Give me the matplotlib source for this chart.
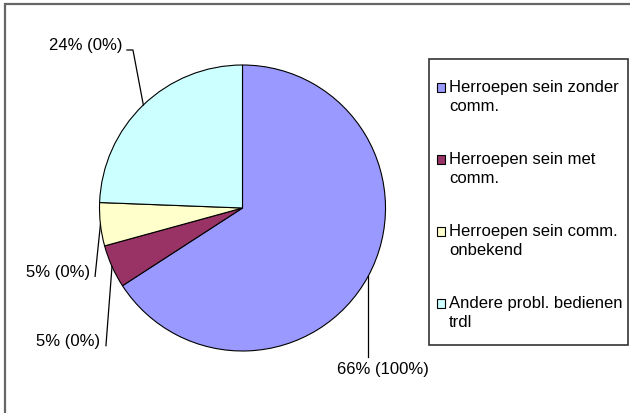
import matplotlib.pyplot as plt
import numpy as np
from matplotlib.patches import Rectangle

plt.rcParams["font.family"] = ["Liberation Sans", "DejaVu Sans"]

# counts per category (41 in total)
categories = [
    "Herroepen sein zonder\ncomm.",
    "Herroepen sein met\ncomm.",
    "Herroepen sein comm.\nonbekend",
    "Andere probl. bedienen\ntrdl",
]
values = [27, 2, 2, 10]
labels = ["66% (100%)", "5% (0%)", "5% (0%)", "24% (0%)"]
colors = ["#9999FF", "#993366", "#FFFFCC", "#CCFFFF"]

# layout (pie radius = 1, 143 px)
W, H = 630, 414
cx, cy, R = 242.5, 209, 143
label_xy = [(0.98, -1.12), (-0.997, -0.93), (-1.066, -0.445), (-0.84, 1.143)]
label_ha = ["center", "right", "right", "right"]
leader_end = [
    [(None, -1.045)],
    [(-0.955, -0.963)],
    [(-1.031, -0.478)],
    [(-0.766, 1.105), (-0.808, 1.105)],
]
fs = 12

fig = plt.figure(figsize=(W / 100, H / 100), dpi=100)
ax = fig.add_axes([0, 0, 1, 1])

ax.pie(values, colors=colors, startangle=90, counterclock=False, radius=1,
       wedgeprops=dict(edgecolor="black", linewidth=0.8))
ax.set_aspect("auto")
ax.set_xlim(-cx / R, (W - cx) / R)
ax.set_ylim(-(H - cy) / R, cy / R)
ax.axis("off")

# labels with leader lines from slice mid-angle
total = sum(values)
cum = np.cumsum(values) - np.array(values) / 2
for i, lab in enumerate(labels):
    ang = np.deg2rad(90 - 360 * cum[i] / total)
    ex, ey = np.cos(ang), np.sin(ang)
    xs, ys = [ex], [ey]
    for px, py in leader_end[i]:
        xs.append(ex if px is None else px)
        ys.append(py)
    ax.plot(xs, ys, color="black", lw=0.9)
    ax.text(label_xy[i][0], label_xy[i][1], lab, ha=label_ha[i], va="center",
            fontsize=fs)

# outer chart border (runs off the image right and bottom)
fig.patches.append(Rectangle((4.5 / W, -0.05), 1.1, 1 - 4.5 / H + 0.05,
                             transform=fig.transFigure, fill=False,
                             edgecolor="#666666", lw=1.6))

# legend box
lx0, lx1, ly0, ly1 = 429, 627.5, 60, 346
fig.patches.append(Rectangle((lx0 / W, 1 - ly1 / H), (lx1 - lx0) / W,
                             (ly1 - ly0) / H, transform=fig.transFigure,
                             fill=False, edgecolor="#333333", lw=1.2))
for i, (cat, col) in enumerate(zip(categories, colors)):
    ty = 88 + 72 * i
    fig.patches.append(Rectangle((436.5 / W, 1 - (ty + 4.5) / H), 8.5 / W, 8.5 / H,
                                 transform=fig.transFigure, facecolor=col,
                                 edgecolor="black", lw=0.8))
    fig.text(449 / W, 1 - (ty - 8) / H, cat, ha="left", va="top",
             fontsize=fs, linespacing=1.35)

fig.savefig("out.png", dpi=100)
